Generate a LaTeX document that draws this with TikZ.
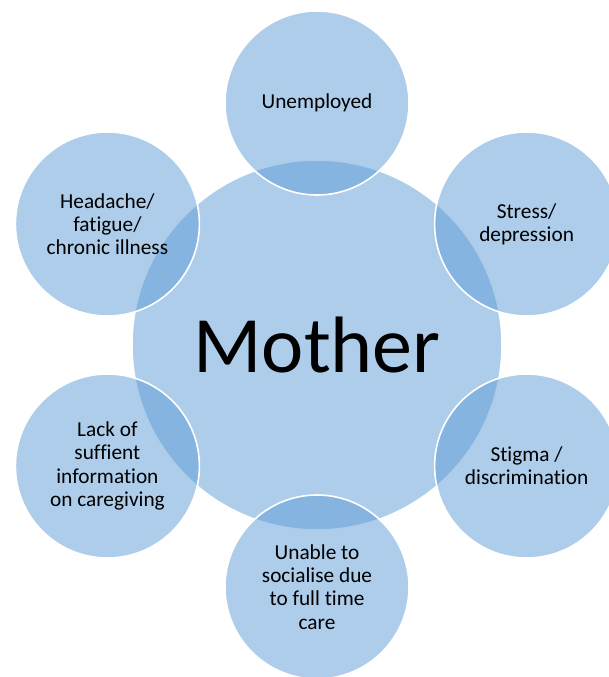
\documentclass[tikz,border=0pt]{standalone}
\usepackage{fontspec}
\setmainfont[Ligatures=NoCommon]{Carlito}
\definecolor{accent}{HTML}{5B9BD5}
\begin{document}
\begin{tikzpicture}[x=1pt,y=-1pt,
  bubble/.style={circle, fill=accent, fill opacity=0.5, text opacity=1, draw=white, line width=1.6pt,
    minimum size=184pt, inner sep=0pt, align=center, text=black,
    font=\fontsize{21.3}{23.3}\selectfont}]
\useasboundingbox (0,0) rectangle (608,677);
\node[bubble, minimum size=370pt, font=\fontsize{80}{90}\selectfont] (m) at (317,345) {Mother};
\node[bubble] (u) at (317,103) {Unemployed};
\node[bubble] (s) at (526.6,224) {Stress/\\depression};
\node[bubble] (g) at (526.6,466) {Stigma /\\discrimination};
\node[bubble] (c) at (317,587) {Unable to\\socialise due\\to full time\\care};
\node[bubble] (l) at (107.4,466) {Lack of\\suffient\\information\\on caregiving};
\node[bubble] (h) at (107.4,224) {Headache/\\fatigue/\\chronic illness};
\end{tikzpicture}
\end{document}
